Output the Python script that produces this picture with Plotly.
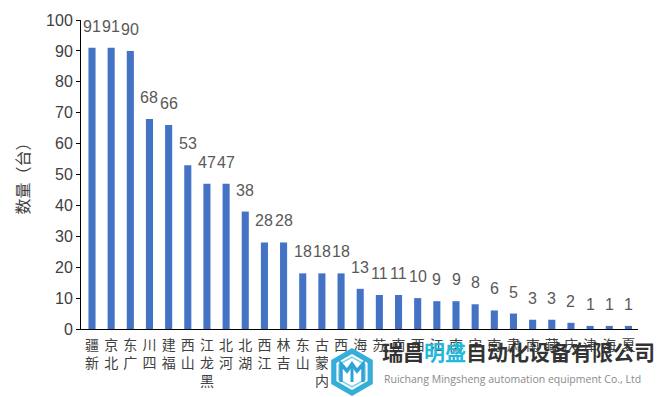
import plotly.graph_objects as go
import math

categories = ["新疆", "北京", "广东", "四川", "福建", "山西", "黑龙江", "河北", "湖北",
              "江西", "吉林", "山东", "内蒙古", "陕西", "青海", "江苏", "云南", "广西",
              "浙江", "湖南", "辽宁", "河南", "甘肃", "海南", "西藏", "重庆", "天津",
              "上海", "宁夏"]
values = [91, 91, 90, 68, 66, 53, 47, 47, 38, 28, 28, 18, 18, 18, 13, 11, 11, 10,
          9, 9, 8, 6, 5, 3, 3, 2, 1, 1, 1]
y_ticks = list(range(0, 101, 10))

W, H = 657, 397
ML, MR, MT, MB = 81, 19, 20, 68
PW, PH = W - ML - MR, H - MT - MB


def px(x):
    return (x - ML) / PW


def py(y):
    return (H - MB - y) / PH


def hexpath(cx, cy, r):
    pts = [(cx + r * math.cos(math.radians(90 + 60 * k)),
            cy - r * math.sin(math.radians(90 + 60 * k))) for k in range(6)]
    return "M " + " L ".join(f"{px(a):.5f},{py(b):.5f}" for a, b in pts) + " Z"


def polyline(pts):
    return "M " + " L ".join(f"{px(a):.5f},{py(b):.5f}" for a, b in pts)


# stacked upright characters, read bottom-to-top
ticktext = ["<br>".join(list(c)[::-1]) for c in categories]

fig = go.Figure()
fig.add_trace(go.Bar(x=categories, y=values, marker_color="#4472C4",
                     marker_line_width=0, showlegend=False, hoverinfo="x+y"))

for c, v in zip(categories, values):
    fig.add_annotation(x=c, y=v, text=str(v), showarrow=False, yanchor="bottom",
                       yshift=11, font=dict(size=16, color="#595959",
                                            family="Liberation Sans, Arial"))

# watermark
fig.add_shape(type="rect", xref="paper", yref="paper", x0=px(328), x1=px(660),
              y0=py(353), y1=py(400), fillcolor="white", line_width=0, layer="above")
cx, cy = 352, 372
fig.add_shape(type="path", xref="paper", yref="paper", path=hexpath(cx, cy, 24),
              fillcolor="#36AEDB", line_width=0, layer="above")
fig.add_shape(type="path", xref="paper", yref="paper", path=hexpath(cx, cy, 18),
              fillcolor="white", line_width=0, layer="above")
fig.add_shape(type="path", xref="paper", yref="paper", path=hexpath(cx, cy, 15),
              fillcolor="rgba(0,0,0,0)", line=dict(color="#7FD0EA", width=1.5), layer="above")
fig.add_shape(type="path", xref="paper", yref="paper",
              path=polyline([(341, 382), (341, 364), (347, 371), (352, 364), (357, 371), (363, 364), (363, 382)]),
              line=dict(color="#2EA3D6", width=3.5), layer="above")
fig.add_shape(type="path", xref="paper", yref="paper",
              path=polyline([(352, 366), (352, 382)]),
              line=dict(color="#2EA3D6", width=3), layer="above")
fig.add_annotation(xref="paper", yref="paper", x=px(380), y=py(368), xanchor="left",
                   text="<b>瑞昌<span style='color:#22B8DA'>明盛</span>自动化设备有限公司</b>",
                   showarrow=False, font=dict(size=21, color="#333333", family="Noto Sans CJK SC"))
fig.add_annotation(xref="paper", yref="paper", x=px(382), y=py(388), xanchor="left",
                   text="Ruichang Mingsheng automation equipment Co., Ltd",
                   showarrow=False, font=dict(size=10.5, color="#8A8A8A", family="Open Sans"))

fig.update_layout(
    width=W, height=H,
    margin=dict(l=ML, r=MR, t=MT, b=MB, pad=0, autoexpand=False),
    plot_bgcolor="white", paper_bgcolor="white",
    bargap=0.63,
    font=dict(family="Liberation Sans, Noto Sans CJK SC", color="#404040"),
    xaxis=dict(tickmode="array", tickvals=categories, ticktext=ticktext,
               tickangle=0, showline=True, linecolor="#000000", linewidth=1,
               ticks="", showgrid=False, automargin=False, ticklabelstandoff=3,
               tickfont=dict(size=14, family="Noto Sans CJK SC", color="#404040")),
    yaxis=dict(range=[0, 100], tickvals=y_ticks, showline=True, linecolor="#000000",
               linewidth=1, ticks="outside", ticklen=4, tickcolor="#000000",
               showgrid=False, zeroline=False, automargin=False,
               tickfont=dict(size=16, color="#404040", family="Liberation Sans, Arial"),
               title=dict(text="数量（台）", standoff=12,
                          font=dict(size=16, color="#404040", family="Noto Sans CJK SC"))),
)

fig.write_html("out.html", config={"displayModeBar": False},
               post_script="document.body.style.margin='0px';")
